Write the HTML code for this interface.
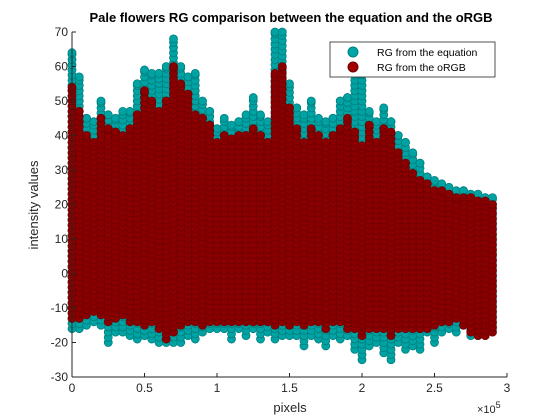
<!DOCTYPE html>
<html><head><meta charset="utf-8"><style>
body{margin:0;background:#fff;}
svg{display:block;font-family:"Liberation Sans",Arial,sans-serif;}
</style></head><body>
<svg id="chart" width="560" height="420">
<rect width="560" height="420" fill="#fff"/>
<text x="291" y="22" text-anchor="middle" font-size="13" font-weight="bold">Pale flowers RG comparison between the equation and the oRGB</text>
<g id="marks"></g>
<g id="axes"></g>
<text x="38" y="205" transform="rotate(-90 38 205)" text-anchor="middle" font-size="13" fill="#262626">intensity values</text>
<text x="290" y="412" text-anchor="middle" font-size="13" fill="#262626">pixels</text>
<text x="477" y="413" font-size="11" fill="#262626">×10<tspan dy="-5" font-size="9">5</tspan></text>
<g>
<rect x="330" y="42" width="165" height="35" fill="#fff" stroke="#262626" stroke-width="0.8"/>
<circle cx="353" cy="52" r="5" fill="#00a6a6" stroke="#008080"/>
<text x="377" y="56" font-size="10.5">RG from the equation</text>
<circle cx="353" cy="67" r="5" fill="#a00000" stroke="#700000"/>
<text x="377" y="71" font-size="10.5">RG from the oRGB</text>
</g>
</svg>
<script>
const xs=[0,0.05,0.1,0.15,0.2,0.25,0.3,0.35,0.4,0.45,0.5,0.55,0.6,0.65,0.7,0.75,0.8,0.85,0.9,0.95,1.0,1.05,1.1,1.15,1.2,1.25,1.3,1.35,1.4,1.45,1.5,1.55,1.6,1.65,1.7,1.75,1.8,1.85,1.9,1.95,2.0,2.05,2.1,2.15,2.2,2.25,2.3,2.35,2.4,2.45,2.5,2.55,2.6,2.65,2.7,2.75,2.8,2.85,2.9];
const eqTop=[64,57,45,44,50,46,45,47,47,55,59,58,58,60,68,60,57,58,50,47,42,45,43,44,46,51,46,44,70,70,55,48,46,50,45,44,45,50,51,59,58,47,44,48,44,40,38,35,32,28,27,26,25,24,24,23,23,22,22];
const eqBot=[-16,-16,-15,-14,-15,-20,-17,-17,-18,-19,-18,-19,-20,-20,-20,-20,-18,-19,-17,-16,-16,-16,-19,-16,-18,-16,-19,-17,-19,-18,-18,-18,-21,-18,-19,-21,-18,-19,-18,-22,-25,-21,-20,-23,-25,-20,-22,-21,-22,-17,-20,-17,-16,-17,-15,-18,-18,-17,-16];
const oTop=[54,47,40,38,45,42,41,40,42,46,53,50,47,50,60,55,52,46,45,43,38,40,39,40,40,42,40,38,58,60,48,42,38,42,40,38,40,42,45,41,37,43,38,42,41,35,32,29,27,26,24,24,23,22,22,22,21,21,20];
const oBot=[-13,-13,-12,-11,-12,-14,-13,-12,-14,-14,-15,-14,-16,-19,-17,-15,-14,-14,-15,-14,-14,-14,-14,-14,-14,-14,-14,-14,-15,-14,-15,-14,-15,-14,-14,-16,-14,-14,-16,-16,-18,-16,-16,-16,-18,-16,-16,-16,-16,-16,-15,-14,-14,-13,-15,-17,-18,-18,-17];
const xTicks=[0,0.5,1,1.5,2,2.5,3];
const xTickLabels=["0","0.5","1","1.5","2","2.5","3"];
const yTicks=[-30,-20,-10,0,10,20,30,40,50,60,70];
const yTickLabels=["-30","-20","-10","0","10","20","30","40","50","60","70"];

const L=72,R=507,T=32,B=377;
const sx=v=>L+(v-0)/(3-0)*(R-L);
const sy=v=>B-(v+30)/100*(B-T);
const NS="http://www.w3.org/2000/svg";
const marks=document.getElementById('marks');
function series(tops,bots,fill,stroke,inner,name){
  const g=document.createElementNS(NS,'g');
  
  
  const bw=sx(xs[1])-sx(xs[0]);
  for(let i=0;i<xs.length;i++){
    const r=document.createElementNS(NS,'rect');
    
    
    const a=(i>0?Math.min(tops[i],tops[i-1]):tops[i]);
    r.setAttribute('x',sx(xs[i])-(i>0?bw:0));
    r.setAttribute('width',i>0?bw:1);
    r.setAttribute('y',sy(a));
    const b=(i>0?Math.max(bots[i],bots[i-1]):bots[i]);
    r.setAttribute('height',sy(b)-sy(a));
    r.setAttribute('fill',inner);
    g.appendChild(r);
  }
  for(let i=0;i<xs.length;i++){
    for(let v=bots[i];v<=tops[i]+0.01;v+=1.5){
      const c=document.createElementNS(NS,'circle');
      
      
      c.setAttribute('cx',sx(xs[i]));
      c.setAttribute('cy',sy(Math.min(v,tops[i])));
      c.setAttribute('r',4);
      c.setAttribute('fill',fill);
      c.setAttribute('stroke',stroke);
      c.setAttribute('stroke-width',0.8);
      g.appendChild(c);
    }
    const c=document.createElementNS(NS,'circle');
    
    
    c.setAttribute('cx',sx(xs[i]));c.setAttribute('cy',sy(tops[i]));c.setAttribute('r',4);
    c.setAttribute('fill',fill);c.setAttribute('stroke',stroke);c.setAttribute('stroke-width',0.8);
    g.appendChild(c);
  }
  marks.appendChild(g);
}
series(eqTop,eqBot,'#00a3a3','#007f7f','#009090','series-equation');
series(oTop,oBot,'#8a0000','#700000','#800000','series-orgb');

const axes=document.getElementById('axes');
function line(x1,y1,x2,y2,name){
  const l=document.createElementNS(NS,'line');
  
  
  l.setAttribute('x1',x1);l.setAttribute('y1',y1);l.setAttribute('x2',x2);l.setAttribute('y2',y2);
  l.setAttribute('stroke','#262626');l.setAttribute('stroke-width',1);
  axes.appendChild(l);
}
function text(x,y,s,anchor,name){
  const t=document.createElementNS(NS,'text');
  
  
  t.setAttribute('x',x);t.setAttribute('y',y);t.setAttribute('text-anchor',anchor);
  t.setAttribute('font-size','12');t.setAttribute('fill','#262626');
  t.textContent=s;axes.appendChild(t);
}
line(L,B,R,B,'x-axis-line');
line(L,T,L,B,'y-axis-line');
xTicks.forEach((v,i)=>{line(sx(v),B,sx(v),B-4,'x-tick');text(sx(v),B+15,xTickLabels[i],'middle','x-tick-label');});
yTicks.forEach((v,i)=>{line(L,sy(v),L+4,sy(v),'y-tick');text(L-4,sy(v)+4,yTickLabels[i],'end','y-tick-label');});
</script>
</body></html>
